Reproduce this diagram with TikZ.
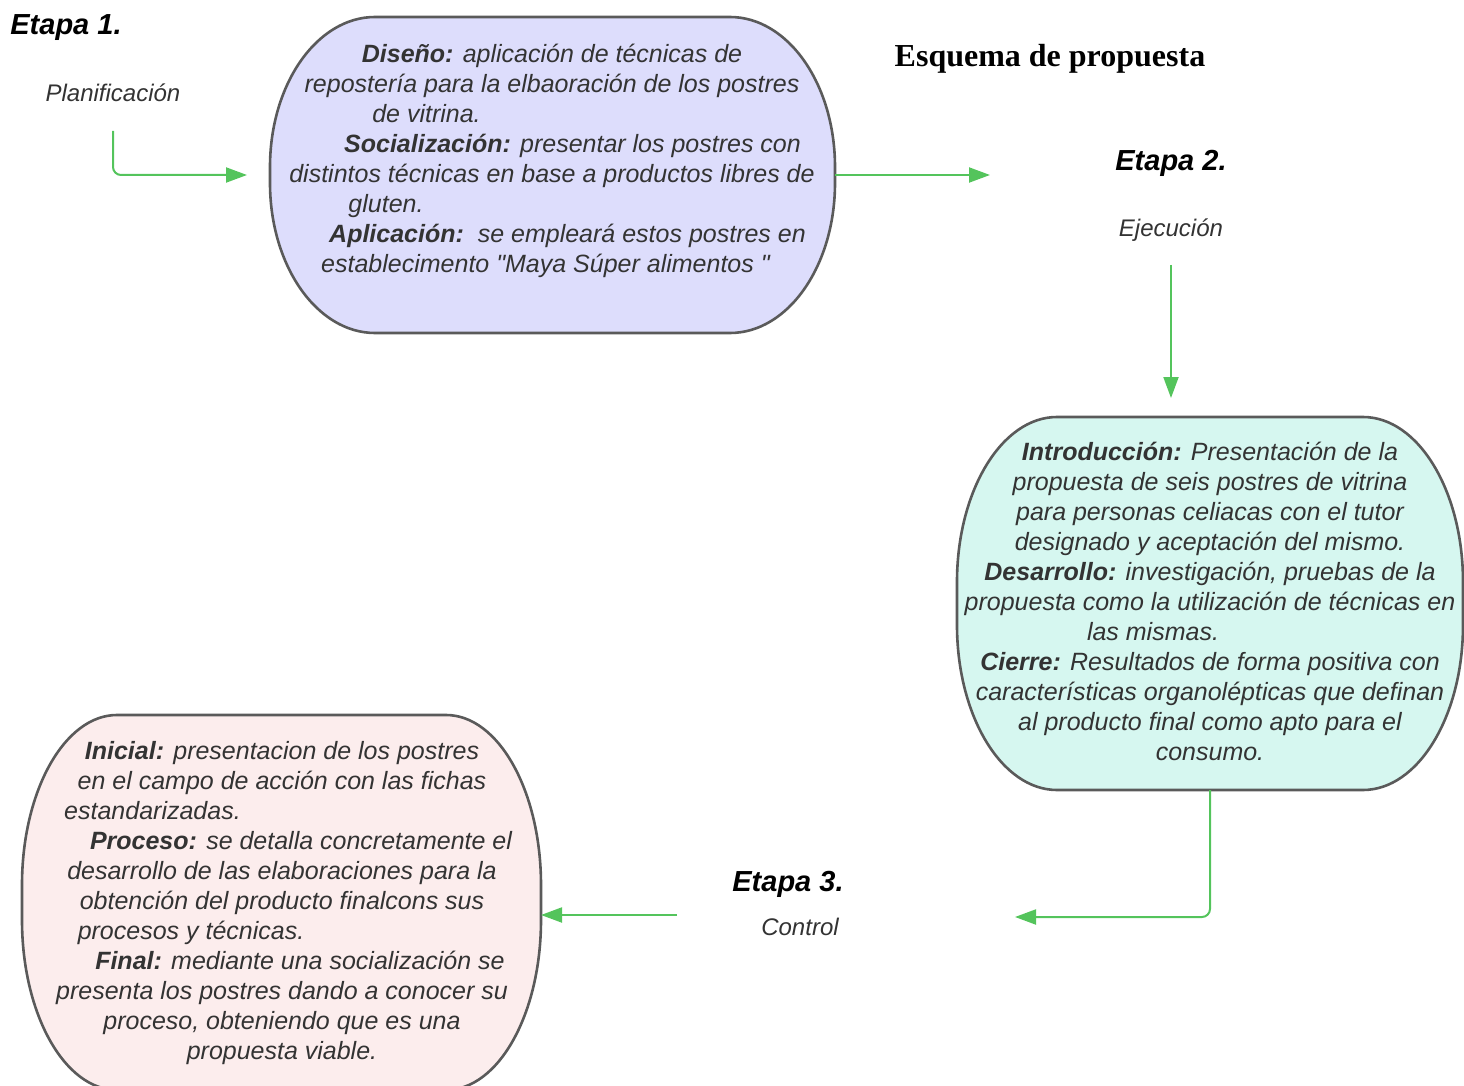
\documentclass[tikz,border=0pt]{standalone}
\usepackage{fontspec}
\setmainfont{Liberation Sans}
\newfontfamily\titlefont{Liberation Serif}
\usetikzlibrary{arrows.meta}
\definecolor{conngreen}{RGB}{84,196,92}
\definecolor{edgegray}{RGB}{90,90,90}
\definecolor{txtgray}{RGB}{51,51,51}
\definecolor{lav}{RGB}{221,221,252}
\definecolor{mint}{RGB}{214,247,240}
\definecolor{rose}{RGB}{252,237,237}
\newcommand\tsp[1]{\hspace*{#1}\mbox{}}
\newcommand\blob[7]{%
  \draw[#1] ({#2+#6},{-#3}) -- ({#4-#6},{-#3})
    arc[start angle=90,end angle=0,x radius=#6,y radius=#7]
    -- ({#4},{-#5+#7})
    arc[start angle=0,end angle=-90,x radius=#6,y radius=#7]
    -- ({#2+#6},{-#5})
    arc[start angle=270,end angle=180,x radius=#6,y radius=#7]
    -- ({#2},{-#3-#7})
    arc[start angle=180,end angle=90,x radius=#6,y radius=#7] -- cycle;}
\tikzset{
  boxline/.style={draw=edgegray,line width=1.3pt},
  bodytext/.style={inner sep=0pt,align=center,text=txtgray,
    font=\fontsize{12.5}{15}\selectfont\itshape},
  stagelabel/.style={inner sep=0pt,anchor=base,
    font=\fontsize{14.5}{17}\selectfont\bfseries\itshape},
  sublabel/.style={inner sep=0pt,anchor=base,text=txtgray,
    font=\fontsize{12}{14}\selectfont\itshape},
  conn/.style={draw=conngreen,line width=1pt,
    -{Triangle[length=10.5pt,width=7.5pt]}},
  anchorbox/.style={inner sep=0pt,outer sep=0pt}
}
\begin{document}
\begin{tikzpicture}[x=0.5pt,y=0.5pt]
\useasboundingbox (0,0) rectangle (1464,-1086);
% shapes
\blob{boxline,fill=lav}{270}{17}{835}{333}{105}{150}
\blob{boxline,fill=mint}{957}{417}{1463}{790}{100}{165}
\blob{boxline,fill=rose}{22}{715}{541}{1090}{95}{170}
\node[anchorbox,minimum width=282.5pt,minimum height=158pt] (b1) at (552.5,-175) {};
\node[anchorbox,minimum width=253pt,minimum height=186.5pt] (b2) at (1210,-603.5) {};
\node[anchorbox,minimum width=259.5pt,minimum height=187.5pt] (b3) at (281.5,-902.5) {};
% box texts
\node[bodytext] (t1) at (552,-161) {%
\textbf{Diseño:} aplicación de técnicas de\\
repostería para la elbaoración de los postres\\
de vitrina.\tsp{125.5pt}\\
\hspace*{20.5pt}\textbf{Socialización:} presentar los postres con\\
distintos técnicas en base a productos libres de\\
gluten.\tsp{166pt}\\
\hspace*{15.5pt}\textbf{Aplicación:}\ \ se empleará estos postres en\\
establecimento \textquotedbl Maya Súper alimentos \textquotedbl\tsp{6.5pt}};
\node[bodytext] (t2) at (1210,-601) {%
\textbf{Introducción:} Presentación de la\\
propuesta de seis postres de vitrina\\
para personas celiacas con el tutor\\
designado y aceptación del mismo.\\
\textbf{Desarrollo:} investigación, pruebas de la\\
propuesta como la utilización de técnicas en\\
las mismas.\tsp{57pt}\\
\textbf{Cierre:} Resultados de forma positiva con\\
características organolépticas que definan\\
al producto final como apto para el\\
consumo.};
\node[bodytext] (t3) at (282,-903) {%
\textbf{Inicial:} presentacion de los postres\\
en el campo de acción con las fichas\\
estandarizadas.\tsp{129.5pt}\\
\hspace*{19pt}\textbf{Proceso:} se detalla concretamente el\\
desarrollo de las elaboraciones para la\\
obtención del producto finalcons sus\\
procesos y técnicas.\tsp{91pt}\\
\hspace*{18pt}\textbf{Final:} mediante una socialización se\\
presenta los postres dando a conocer su\\
proceso, obteniendo que es una\\
propuesta viable.};
% labels
\node[stagelabel,anchor=base west] (e1) at (10,-35) {Etapa 1.};
\node[sublabel] (p1) at (113,-102) {Planificación};
\node[stagelabel] (e2) at (1171,-170) {Etapa 2.};
\node[sublabel] (p2) at (1171,-237) {Ejecución};
\node[stagelabel] (e3) at (788,-891) {Etapa 3.};
\node[sublabel] (p3) at (800,-935) {Control};
\node[inner sep=0pt,anchor=base,font=\fontsize{16}{19}\selectfont\titlefont\bfseries] (title) at (1050,-67) {Esquema de propuesta};
% connector end points
\coordinate (a1s) at (113,-131);
\coordinate (a1e) at (247,-175);
\coordinate (a2e) at (990,-175);
\coordinate (a3s) at (1171,-265);
\coordinate (a3e) at (1171,-398);
\coordinate (a4e) at (1015,-917);
\coordinate (a5s) at (677,-915);
% connectors
\draw[conn,rounded corners=4pt] (a1s) |- (a1e);
\draw[conn] (b1.east) -- (a2e);
\draw[conn] (a3s) -- (a3e);
\draw[conn,rounded corners=4pt] (b2.south) |- (a4e);
\draw[conn] (a5s) -- (a5s -| b3.east);
\end{tikzpicture}
\end{document}
